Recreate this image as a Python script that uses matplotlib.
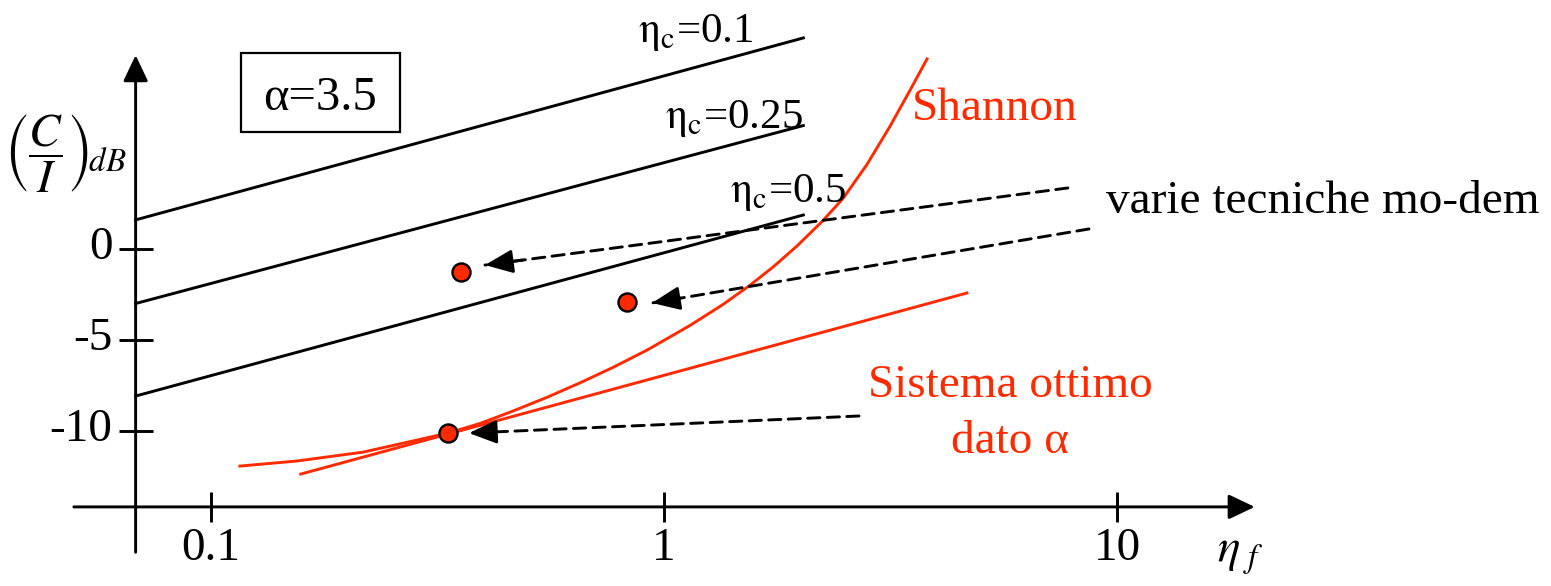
import numpy as np
import matplotlib.pyplot as plt
from matplotlib.patches import Rectangle

plt.rcParams['font.family'] = ['Liberation Serif', 'DejaVu Serif']
plt.rcParams['mathtext.fontset'] = 'stix'

RED = '#ff2a00'

# constant eta_c lines (eta_f range, C/I in dB at the two ends)
eta_line = [0.0683, 2.03]
ci_eta01 = [1.62, 11.65]
ci_eta025 = [-2.99, 6.82]
ci_eta05 = [-8.09, 1.89]

# Shannon bound
shannon_eta = [0.116, 0.155, 0.217, 0.279, 0.334, 0.393, 0.464, 0.552, 0.653, 0.772,
               0.917, 1.141, 1.350, 1.548, 1.740, 1.965, 2.232, 2.483, 2.805, 3.152,
               3.489, 3.804]
shannon_ci = [-11.95, -11.67, -11.18, -10.57, -10.13, -9.60, -8.92, -8.16, -7.36, -6.51,
              -5.56, -4.20, -3.04, -1.98, -0.98, 0.18, 1.53, 2.80, 4.68, 6.78,
              8.76, 10.49]

# optimum system line for alpha = 3.5
opt_eta = [0.158, 4.66]
opt_ci = [-12.39, -2.41]

# modem techniques and optimum point
mod_eta = [0.3565, 0.827]
mod_ci = [-1.27, -2.92]
best_eta = [0.334]
best_ci = [-10.13]

xticks = [0.1, 1, 10]
xtick_labels = ['0.1', '1', '10']
yticks = [0, -5, -10]
ytick_labels = ['0', '-5', '-10']

fig = plt.figure(figsize=(15.51, 5.86), dpi=100)
ax = fig.add_axes([0, 0, 1, 1])
ax.set_xscale('log')
ax.set_xlim(10 ** -1.4648, 10 ** 1.9568)
ax.set_ylim(-18.56, 13.74)
ax.axis('off')

lw = 2.1
axis_arrow = dict(arrowstyle='-|>,head_length=0.8,head_width=0.38', color='black',
                  lw=lw, mutation_scale=20, shrinkA=0, shrinkB=0)

# axes drawn as arrows
x0, y0 = 0.0683, -14.2
ax.annotate('', xy=(20.1, y0), xytext=(0.0499, y0), arrowprops=axis_arrow)
ax.annotate('', xy=(x0, 10.7), xytext=(x0, -16.7), arrowprops=axis_arrow)
ax.plot(xticks, [y0] * len(xticks), ls='none', marker='|', ms=22, mew=lw, color='black')
ax.plot([x0] * len(yticks), yticks, ls='none', marker='_', ms=24, mew=lw, color='black')

for v, s in zip(xticks, xtick_labels):
    ax.text(v, -17.13, s, ha='center', va='baseline', fontsize=34)
for v, s in zip(yticks, ytick_labels):
    ax.text(0.0607, v - 0.55, s, ha='right', va='baseline', fontsize=34)

ax.text(0.0477, 5.25, r'$\left(\dfrac{C}{I}\right)_{\!dB}$', ha='center', va='center',
        fontsize=34)
ax.text(16.6, -17.23, r'$\eta_{\ f}$', ha='left', va='baseline', fontsize=34)

# constant eta_c lines
for ci in (ci_eta01, ci_eta025, ci_eta05):
    ax.plot(eta_line, ci, color='black', lw=lw)
ax.text(0.876, 11.43, r'$\mathrm{\eta_c}$=0.1', ha='left', va='baseline', fontsize=31)
ax.text(1.005, 6.69, r'$\mathrm{\eta_c}$=0.25', ha='left', va='baseline', fontsize=31)
ax.text(1.398, 2.61, r'$\mathrm{\eta_c}$=0.5', ha='left', va='baseline', fontsize=31)

# Shannon curve and optimum line
ax.plot(shannon_eta, shannon_ci, color=RED, lw=lw, solid_joinstyle='round')
ax.plot(opt_eta, opt_ci, color=RED, lw=lw)
ax.text(3.52, 7.13, 'Shannon', color=RED, ha='left', va='baseline', fontsize=34)
ax.text(5.80, -8.14, 'Sistema ottimo', color=RED, ha='center', va='baseline', fontsize=34)
ax.text(5.80, -11.23, 'dato α', color=RED, ha='center', va='baseline', fontsize=34)

# alpha box
ax.add_patch(Rectangle((0.1166, 6.47), 0.2617 - 0.1166, 10.82 - 6.47,
                       fc='white', ec='black', lw=1.6))
ax.text(0.174, 7.67, 'α=3.5', ha='center', va='baseline', fontsize=35)

# points
ax.plot(mod_eta + best_eta, mod_ci + best_ci, ls='none', marker='o', ms=13,
        mfc=RED, mec='black', mew=1.7, zorder=5)

# dashed pointers with solid heads
tails = [(7.78, 3.38), (8.66, 1.12), (2.693, -9.19)]
heads = [(0.4028, -0.87), (0.9409, -2.96), (0.3713, -10.13)]
dash_style = dict(arrowstyle='-', color='black', lw=lw, linestyle=(0, (4.2, 2.5)),
                  shrinkA=0, shrinkB=0)
head_style = dict(arrowstyle='-|>,head_length=0.85,head_width=0.36', color='black',
                  lw=lw, mutation_scale=20, shrinkA=0, shrinkB=0)
for (tx, ty), (hx, hy) in zip(tails, heads):
    ax.annotate('', xy=(hx, hy), xytext=(tx, ty), arrowprops=dash_style)
    f = 0.065
    near = (hx * (tx / hx) ** f, hy + f * (ty - hy))
    ax.annotate('', xy=(hx, hy), xytext=near, arrowprops=head_style)
ax.text(9.44, 2.0, 'varie tecniche mo-dem', ha='left', va='baseline', fontsize=34)

fig.savefig('out.png', dpi=100)
